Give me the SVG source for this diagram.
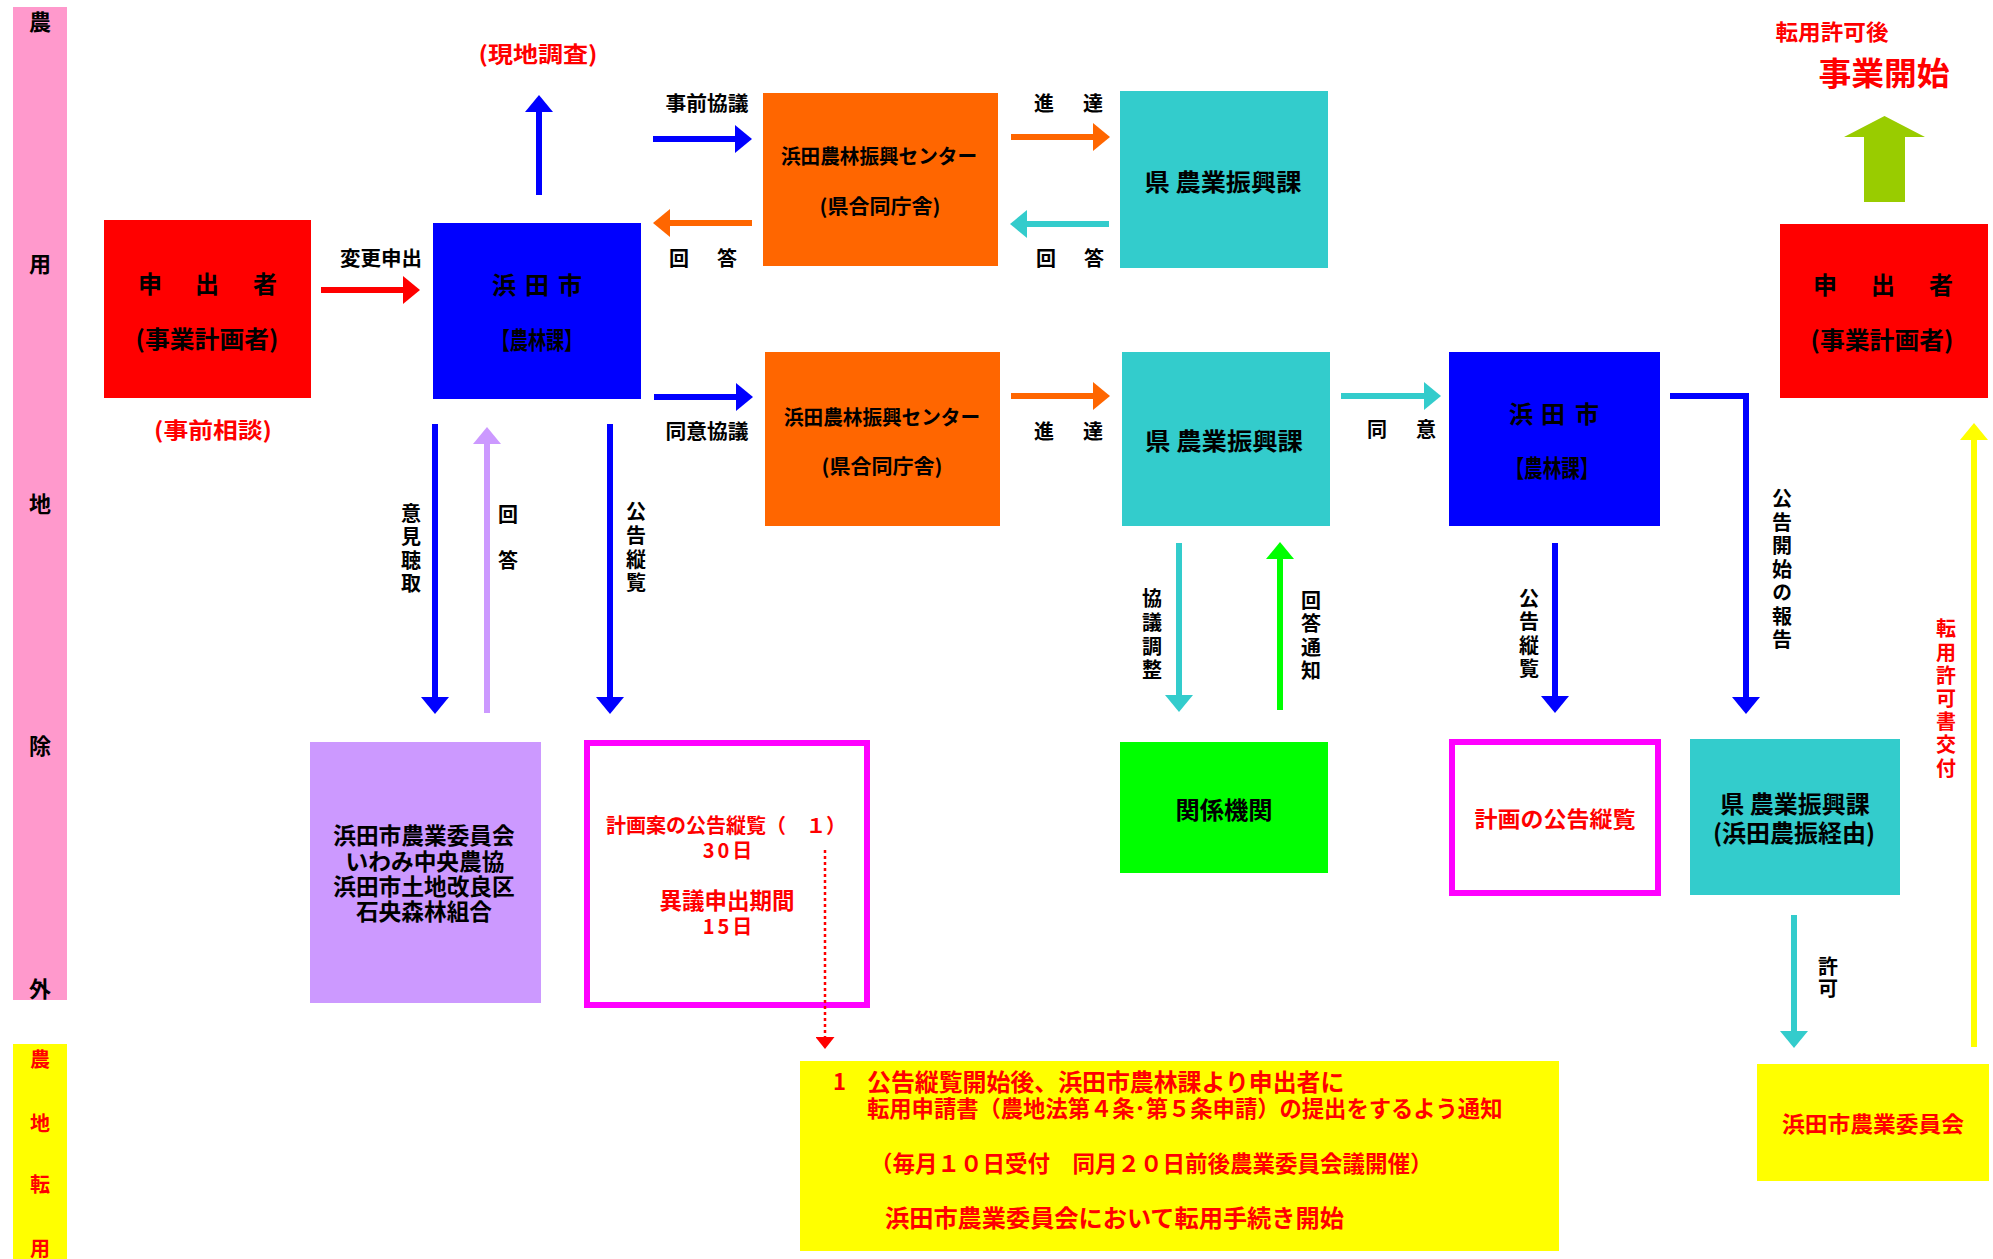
<svg xmlns="http://www.w3.org/2000/svg" width="1993" height="1259" viewBox="0 0 1993 1259">
<defs>
<style>
text{font-family:"Noto Sans CJK JP","Noto Sans CJK SC",sans-serif;font-weight:bold;dominant-baseline:central;text-anchor:middle;fill:#000}
.r{fill:#FF0000}
.s20{font-size:20px}
.s22{font-size:22px}
.s24{font-size:24px}
.v{writing-mode:vertical-rl;text-orientation:upright}
.ln{fill:none;stroke-width:6}
</style>
<marker id="hBlue" markerUnits="userSpaceOnUse" markerWidth="17" markerHeight="28" viewBox="0 0 17 28" refX="7" refY="14" orient="auto"><path d="M0,0 L17,14 L0,28 Z" fill="#0000FF"/></marker>
<marker id="hRed" markerUnits="userSpaceOnUse" markerWidth="17" markerHeight="28" viewBox="0 0 17 28" refX="7" refY="14" orient="auto"><path d="M0,0 L17,14 L0,28 Z" fill="#FF0000"/></marker>
<marker id="hOrange" markerUnits="userSpaceOnUse" markerWidth="17" markerHeight="28" viewBox="0 0 17 28" refX="7" refY="14" orient="auto"><path d="M0,0 L17,14 L0,28 Z" fill="#FF6600"/></marker>
<marker id="hTeal" markerUnits="userSpaceOnUse" markerWidth="17" markerHeight="28" viewBox="0 0 17 28" refX="7" refY="14" orient="auto"><path d="M0,0 L17,14 L0,28 Z" fill="#33CCCC"/></marker>
<marker id="hLav" markerUnits="userSpaceOnUse" markerWidth="17" markerHeight="28" viewBox="0 0 17 28" refX="7" refY="14" orient="auto"><path d="M0,0 L17,14 L0,28 Z" fill="#CC99FF"/></marker>
<marker id="hGreen" markerUnits="userSpaceOnUse" markerWidth="17" markerHeight="28" viewBox="0 0 17 28" refX="7" refY="14" orient="auto"><path d="M0,0 L17,14 L0,28 Z" fill="#00FF00"/></marker>
<marker id="hYellow" markerUnits="userSpaceOnUse" markerWidth="17" markerHeight="28" viewBox="0 0 17 28" refX="7" refY="14" orient="auto"><path d="M0,0 L17,14 L0,28 Z" fill="#FFFF00"/></marker>
<marker id="hDot" markerUnits="userSpaceOnUse" markerWidth="12" markerHeight="19" viewBox="0 0 12 19" refX="4" refY="9.5" orient="auto"><path d="M0,0 L12,9.5 L0,19 Z" fill="#FF0000"/></marker>
</defs>
<rect width="1993" height="1259" fill="#FFFFFF"/>

<!-- side bars -->
<g id="bar-nouyouchi">
<rect x="13" y="7" width="54" height="993" fill="#FF99CC"/>
<text class="s22" x="40" y="20">農</text>
<text class="s22" x="40" y="262">用</text>
<text class="s22" x="40" y="502">地</text>
<text class="s22" x="40" y="744">除</text>
<text class="s22" x="40" y="987">外</text>
</g>
<g id="bar-tenyou">
<rect x="13" y="1044" width="54" height="215" fill="#FFFF00"/>
<text class="s20 r" x="40" y="1058">農</text>
<text class="s20 r" x="40" y="1122">地</text>
<text class="s20 r" x="40" y="1183">転</text>
<text class="s20 r" x="40" y="1247">用</text>
</g>

<!-- nodes -->
<g id="applicant1">
<rect x="104" y="220" width="207" height="178" fill="#FF0000"/>
<text class="s24" x="150" y="282">申</text>
<text class="s24" x="207" y="282">出</text>
<text class="s24" x="265" y="282">者</text>
<text class="s24" x="207" y="337" textLength="143" lengthAdjust="spacingAndGlyphs">(事業計画者)</text>
</g>
<text id="jizen-soudan" class="s22 r" x="213" y="428" textLength="118" lengthAdjust="spacingAndGlyphs">(事前相談)</text>

<g id="hamada1">
<rect x="433" y="223" width="208" height="176" fill="#0000FF"/>
<text class="s24" x="504" y="283">浜</text>
<text class="s24" x="537" y="283">田</text>
<text class="s24" x="570" y="283">市</text>
<text class="s24" x="537" y="338" textLength="91" lengthAdjust="spacingAndGlyphs">【農林課】</text>
</g>
<text id="genchi" class="s22 r" x="538" y="52" textLength="119" lengthAdjust="spacingAndGlyphs">(現地調査)</text>

<g id="center1">
<rect x="763" y="93" width="235" height="173" fill="#FF6600"/>
<text class="s20" x="879" y="155" textLength="196" lengthAdjust="spacingAndGlyphs">浜田農林振興センター</text>
<text class="s20" x="880" y="205" textLength="121" lengthAdjust="spacingAndGlyphs">(県合同庁舎)</text>
</g>
<g id="ken1">
<rect x="1120" y="91" width="208" height="177" fill="#33CCCC"/>
<text class="s24" x="1223" y="180" textLength="157" lengthAdjust="spacingAndGlyphs">県 農業振興課</text>
</g>
<g id="center2">
<rect x="765" y="352" width="235" height="174" fill="#FF6600"/>
<text class="s20" x="882" y="416" textLength="196" lengthAdjust="spacingAndGlyphs">浜田農林振興センター</text>
<text class="s20" x="882" y="465" textLength="121" lengthAdjust="spacingAndGlyphs">(県合同庁舎)</text>
</g>
<g id="ken2">
<rect x="1122" y="352" width="208" height="174" fill="#33CCCC"/>
<text class="s24" x="1224" y="439" textLength="158" lengthAdjust="spacingAndGlyphs">県 農業振興課</text>
</g>
<g id="hamada2">
<rect x="1449" y="352" width="211" height="174" fill="#0000FF"/>
<text class="s24" x="1521" y="412">浜</text>
<text class="s24" x="1553" y="412">田</text>
<text class="s24" x="1587" y="412">市</text>
<text class="s24" x="1552" y="466" textLength="93" lengthAdjust="spacingAndGlyphs">【農林課】</text>
</g>
<g id="applicant2">
<rect x="1780" y="224" width="208" height="174" fill="#FF0000"/>
<text class="s24" x="1825" y="283">申</text>
<text class="s24" x="1883" y="283">出</text>
<text class="s24" x="1941" y="283">者</text>
<text class="s24" x="1882" y="338" textLength="143" lengthAdjust="spacingAndGlyphs">(事業計画者)</text>
</g>
<g id="jigyou-kaishi">
<text class="s22 r" x="1832" y="30" textLength="113" lengthAdjust="spacingAndGlyphs">転用許可後</text>
<text class="r" style="font-size:32px" x="1884" y="71" textLength="131" lengthAdjust="spacingAndGlyphs">事業開始</text>
<polygon points="1864,202 1864,137 1844,137 1884.5,116 1925,137 1905,137 1905,202" fill="#99CC00"/>
</g>

<g id="iinkai-group">
<rect x="310" y="742" width="231" height="261" fill="#CC99FF"/>
<text style="font-size:22.7px"><tspan x="424" y="834">浜田市農業委員会</tspan><tspan x="425" y="860">いわみ中央農協</tspan><tspan x="424" y="885">浜田市土地改良区</tspan><tspan x="424" y="910">石央森林組合</tspan></text>
</g>
<g id="koukoku-an">
<rect x="587" y="743" width="280" height="262" fill="#FFFFFF" stroke="#FF00FF" stroke-width="6"/>
<text class="s20 r"><tspan x="726" y="824">計画案の公告縦覧（　１）</tspan><tspan x="729" y="849" style="letter-spacing:3px">30日</tspan><tspan x="727" y="899" style="font-size:22.5px">異議申出期間</tspan><tspan x="729" y="925" style="letter-spacing:3px">15日</tspan></text>
</g>
<g id="kankei">
<rect x="1120" y="742" width="208" height="131" fill="#00FF00"/>
<text class="s24" x="1224" y="808" textLength="97" lengthAdjust="spacingAndGlyphs">関係機関</text>
</g>
<g id="koukoku">
<rect x="1452" y="742" width="206" height="151" fill="#FFFFFF" stroke="#FF00FF" stroke-width="6"/>
<text class="s22 r" x="1555" y="817" textLength="161" lengthAdjust="spacingAndGlyphs">計画の公告縦覧</text>
</g>
<g id="ken3">
<rect x="1690" y="739" width="210" height="156" fill="#33CCCC"/>
<text class="s24"><tspan x="1795" y="802">県 農業振興課</tspan><tspan x="1794" y="831">(浜田農振経由)</tspan></text>
</g>
<g id="note">
<rect x="800" y="1061" width="759" height="190" fill="#FFFF00"/>
<text class="r" style="font-size:22px;text-anchor:start"><tspan x="833" y="1080">1</tspan><tspan x="867" y="1080" style="font-size:23.9px">公告縦覧開始後、浜田市農林課より申出者に</tspan><tspan x="867" y="1107" style="font-size:22.3px">転用申請書（農地法第４条･第５条申請）の提出をするよう通知</tspan><tspan x="870" y="1162" style="font-size:22.5px">（毎月１０日受付　同月２０日前後農業委員会議開催）</tspan><tspan x="885" y="1216" style="font-size:24.2px">浜田市農業委員会において転用手続き開始</tspan></text>
</g>
<g id="iinkai2">
<rect x="1757" y="1064" width="232" height="117" fill="#FFFF00"/>
<text class="s22 r" x="1873" y="1122" textLength="182" lengthAdjust="spacingAndGlyphs">浜田市農業委員会</text>
</g>

<!-- connectors -->
<g id="connectors">
<line class="ln" x1="321" y1="290" x2="410" y2="290" stroke="#FF0000" marker-end="url(#hRed)"/>
<line class="ln" x1="539" y1="195" x2="539" y2="105" stroke="#0000FF" marker-end="url(#hBlue)"/>
<line class="ln" x1="653" y1="139" x2="742" y2="139" stroke="#0000FF" marker-end="url(#hBlue)"/>
<line class="ln" x1="752" y1="223" x2="663" y2="223" stroke="#FF6600" marker-end="url(#hOrange)"/>
<line class="ln" x1="1011" y1="137" x2="1100" y2="137" stroke="#FF6600" marker-end="url(#hOrange)"/>
<line class="ln" x1="1109" y1="224" x2="1020" y2="224" stroke="#33CCCC" marker-end="url(#hTeal)"/>
<line class="ln" x1="654" y1="397" x2="743" y2="397" stroke="#0000FF" marker-end="url(#hBlue)"/>
<line class="ln" x1="1011" y1="396" x2="1100" y2="396" stroke="#FF6600" marker-end="url(#hOrange)"/>
<line class="ln" x1="1341" y1="396" x2="1431" y2="396" stroke="#33CCCC" marker-end="url(#hTeal)"/>
<polyline class="ln" points="1670,396 1746,396 1746,704" stroke="#0000FF" marker-end="url(#hBlue)"/>
<line class="ln" x1="435" y1="424" x2="435" y2="704" stroke="#0000FF" marker-end="url(#hBlue)"/>
<line class="ln" x1="487" y1="713" x2="487" y2="437" stroke="#CC99FF" marker-end="url(#hLav)"/>
<line class="ln" x1="610" y1="424" x2="610" y2="704" stroke="#0000FF" marker-end="url(#hBlue)"/>
<line class="ln" x1="1179" y1="543" x2="1179" y2="702" stroke="#33CCCC" stroke-width="5" marker-end="url(#hTeal)"/>
<line class="ln" x1="1280" y1="710" x2="1280" y2="552" stroke="#00FF00" marker-end="url(#hGreen)"/>
<line class="ln" x1="1555" y1="543" x2="1555" y2="703" stroke="#0000FF" marker-end="url(#hBlue)"/>
<line class="ln" x1="1794" y1="915" x2="1794" y2="1038" stroke="#33CCCC" marker-end="url(#hTeal)"/>
<line class="ln" x1="1974" y1="1047" x2="1974" y2="433" stroke="#FFFF00" stroke-width="5" marker-end="url(#hYellow)"/>
<line x1="825" y1="850" x2="825" y2="1041" stroke="#FF0000" stroke-width="2.5" stroke-dasharray="3,3" marker-end="url(#hDot)"/>
</g>

<!-- connector labels -->
<g id="labels">
<text class="s20" x="381" y="257" textLength="82" lengthAdjust="spacingAndGlyphs">変更申出</text>
<text class="s20" x="707" y="102" textLength="83" lengthAdjust="spacingAndGlyphs">事前協議</text>
<text class="s20" x="679" y="257">回</text><text class="s20" x="727" y="257">答</text>
<text class="s20" x="1044" y="102">進</text><text class="s20" x="1093" y="102">達</text>
<text class="s20" x="1046" y="257">回</text><text class="s20" x="1094" y="257">答</text>
<text class="s20" x="707" y="430" textLength="83" lengthAdjust="spacingAndGlyphs">同意協議</text>
<text class="s20" x="1044" y="430">進</text><text class="s20" x="1093" y="430">達</text>
<text class="s20" x="1377" y="428">同</text><text class="s20" x="1426" y="428">意</text>
<text class="s20 v" x="411" y="550" style="letter-spacing:3.3px">意見聴取</text>
<text class="s20 v" x="508" y="550" style="letter-spacing:26px">回答</text>
<text class="s20 v" x="636" y="549" style="letter-spacing:3.7px">公告縦覧</text>
<text class="s20 v" x="1152" y="636" style="letter-spacing:3.7px">協議調整</text>
<text class="s20 v" x="1311" y="637" style="letter-spacing:3.4px">回答通知</text>
<text class="s20 v" x="1529" y="635" style="letter-spacing:3.4px">公告縦覧</text>
<text class="s20 v" x="1782" y="571" style="letter-spacing:3.5px">公告開始の報告</text>
<text class="s20 v r" x="1946" y="700" style="letter-spacing:3.2px">転用許可書交付</text>
<text class="s20 v" x="1828" y="978" style="letter-spacing:2px">許可</text>
</g>
</svg>
